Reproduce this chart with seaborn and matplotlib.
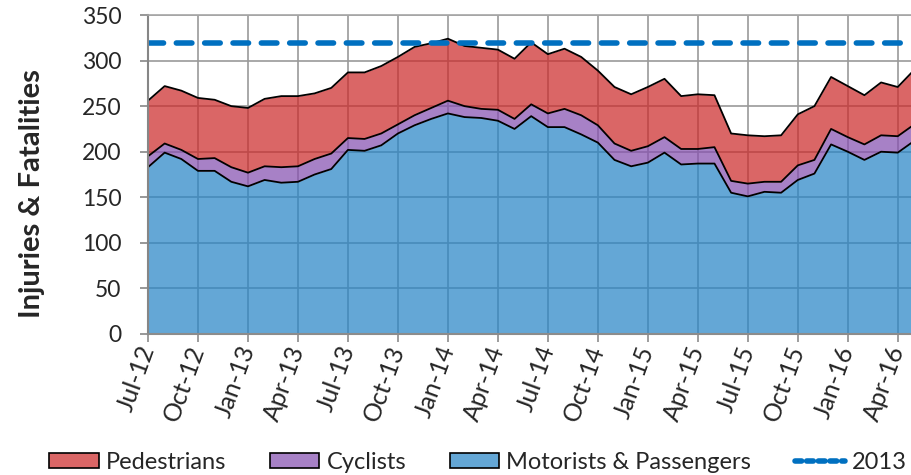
import numpy as np
import pandas as pd
import seaborn as sns
import matplotlib.pyplot as plt
import matplotlib.transforms as mtransforms
from matplotlib.colors import to_rgba
from matplotlib.patches import Patch
from matplotlib.lines import Line2D

# monthly counts, Jul-12 onwards
months = pd.date_range('2012-07-01', periods=47, freq='MS')
motorists = [183, 199, 192, 179, 179, 167, 162, 169, 166, 167, 175, 181,
             202, 201, 207, 220, 229, 236, 242, 238, 237, 234, 225, 239,
             227, 227, 219, 210, 191, 184, 188, 199, 186, 187, 187, 155,
             151, 156, 155, 169, 176, 208, 200, 191, 200, 199, 212]
cyclists = [12, 10, 10, 13, 14, 16, 15, 15, 17, 17, 17, 17,
            13, 13, 13, 10, 11, 12, 14, 12, 10, 12, 11, 13,
            15, 20, 21, 19, 18, 17, 18, 17, 17, 16, 18, 13,
            14, 11, 12, 16, 15, 17, 16, 17, 18, 18, 18]
pedestrians = [61, 63, 65, 67, 64, 67, 71, 74, 78, 77, 72, 72,
               72, 73, 74, 74, 75, 71, 68, 66, 67, 66, 66, 68,
               65, 66, 64, 60, 62, 62, 65, 64, 58, 60, 57, 52,
               53, 50, 51, 56, 59, 57, 56, 54, 58, 54, 60]
level_2013 = 319

series_names = ['Pedestrians', 'Cyclists', 'Motorists & Passengers']
series_colors = {'Pedestrians': '#CC2B2B', 'Cyclists': '#8651B0',
                 'Motorists & Passengers': '#2885C7'}
line_color = '#0070C0'
fill_alpha = 0.72

df = pd.DataFrame({'idx': np.arange(len(months)),
                   'motor': motorists, 'cyc': cyclists, 'ped': pedestrians})
df['lvl_motor'] = df['motor']
df['lvl_cyc'] = df['motor'] + df['cyc']
df['lvl_ped'] = df['lvl_cyc'] + df['ped']
df['l2013'] = level_2013

sns.set_theme(style='white')
plt.rcParams['font.family'] = ['Lato', 'DejaVu Sans']

fig = plt.figure(figsize=(9.12, 4.75), dpi=100)
ax = fig.add_axes([148 / 912, 1 - 334 / 475, (914.4 - 148) / 912, (334 - 15) / 475])

ax.fill_between(df['idx'], 0, df['lvl_motor'], color=series_colors['Motorists & Passengers'],
                alpha=fill_alpha, lw=0)
ax.fill_between(df['idx'], df['lvl_motor'], df['lvl_cyc'], color=series_colors['Cyclists'],
                alpha=fill_alpha, lw=0)
ax.fill_between(df['idx'], df['lvl_cyc'], df['lvl_ped'], color=series_colors['Pedestrians'],
                alpha=fill_alpha, lw=0)

for col in ['lvl_motor', 'lvl_cyc', 'lvl_ped']:
    sns.lineplot(data=df, x='idx', y=col, color='black', lw=1.3, ax=ax)

sns.lineplot(data=df, x='idx', y='l2013', color=line_color, lw=4.0,
             linestyle=(0, (2.8, 2.3)), dash_capstyle='round', ax=ax)

ax.set_xlim(0, len(months) - 1)
ax.set_ylim(0, 350)
ax.set_yticks(np.arange(0, 351, 50))
tick_idx = np.arange(0, len(months), 3)
ax.set_xticks(tick_idx)
ax.set_xticklabels(months[tick_idx].strftime('%b-%y'), rotation=70, ha='right',
                   va='center', rotation_mode='anchor', fontsize=18)
offset = mtransforms.ScaledTranslation(10 / 100, 0, fig.dpi_scale_trans)
for lab in ax.get_xticklabels():
    lab.set_transform(lab.get_transform() + offset)

ax.grid(True, color='#9a9a9a', lw=1.2)
ax.set_axisbelow(True)

ax.spines['left'].set_color('#868686')
ax.spines['left'].set_linewidth(1.5)
ax.spines['bottom'].set_color('#8C8C8C')
ax.spines['bottom'].set_linewidth(1.5)
ax.spines['top'].set_color('#A6A6A6')
ax.spines['top'].set_linewidth(1.2)
ax.spines['right'].set_visible(False)

ax.tick_params(axis='x', bottom=True, direction='out', length=6, width=1.2,
               color='#8C8C8C', pad=3)
ax.tick_params(axis='y', left=True, direction='out', length=6, width=1.2,
               color='#868686', pad=13, labelsize=16.5)

ax.set_xlabel('')
ax.set_ylabel('Injuries & Fatalities', fontsize=21, fontweight='bold')
ax.yaxis.set_label_coords(-0.134, 0.44)

handles = [Patch(facecolor=to_rgba(series_colors[n], fill_alpha), edgecolor='black', lw=1.2)
           for n in series_names]
handles.append(Line2D([0], [0], color=line_color, lw=4.0, linestyle=(0, (1.2, 0.9)),
                      dash_capstyle='round'))
fig.legend(handles, series_names + ['2013'], loc='center', bbox_to_anchor=(0.524, 0.027),
           ncol=4, frameon=False, fontsize=17, handlelength=2.1, handleheight=0.65,
           handletextpad=0.3, columnspacing=1.85)

fig.savefig('out.png', dpi=100)
